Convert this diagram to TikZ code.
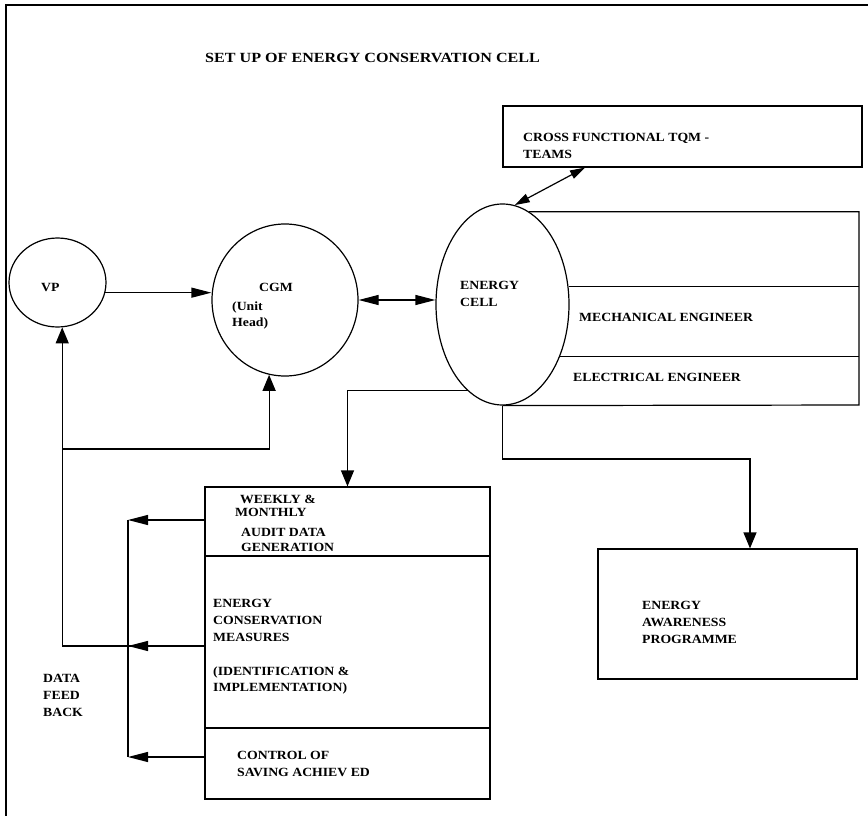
\documentclass[tikz,border=0pt]{standalone}
\usepackage{fontspec}
\setmainfont{Liberation Serif}[FakeStretch=1.1]
\newfontfamily\titlefont{Liberation Serif}[FakeStretch=1.15]
\usetikzlibrary{arrows.meta,shapes.geometric}
\begin{document}
\begin{tikzpicture}[x=1pt,y=-1pt,
  oval/.style={ellipse, draw, line width=1.2pt, inner sep=0pt},
  box/.style={rectangle, draw, line width=1.2pt, inner sep=0pt, minimum width=285pt},
  txt/.style={font=\fontsize{12.5}{17}\selectfont\bfseries, align=left, anchor=west, inner sep=0pt},
  conn/.style={line width=1.2pt},
  harr/.style={conn, -{Triangle[length=20pt,width=10pt]}},
  varr/.style={conn, -{Triangle[length=16pt,width=13pt]}},
  dbl/.style={conn, {Triangle[length=20pt,width=10pt]}-{Triangle[length=20pt,width=10pt]}},
  diag/.style={conn, {Triangle[length=15pt,width=9pt]}-{Triangle[length=15pt,width=9pt]}}]
\useasboundingbox (0,0) rectangle (868,816);
% frame
\coordinate (frTL) at (6,5);
\coordinate (frTR) at (868,5);
\coordinate (frBL) at (6,816);
\draw[line width=2pt] (frTR) -- (frTL) -- (frBL);

% title
\node[txt, font=\titlefont\fontsize{14}{17}\selectfont\bfseries] (title) at (205,58) {SET UP OF ENERGY CONSERVATION CELL};

% shapes
\node[oval, minimum width=97pt, minimum height=89pt] (vp) at (57.5,282.5) {};
\node[oval, minimum width=146pt, minimum height=152pt] (cgm) at (285,300) {};
\node[oval, minimum width=133pt, minimum height=201pt] (ecell) at (502.5,304.5) {};
\node[rectangle, draw, line width=1.2pt, inner sep=0pt, minimum width=359pt, minimum height=61pt] (tqm) at (682.5,136.5) {};
\node[box, minimum height=69pt] (weekly) at (347.5,521.5) {};
\node[box, minimum height=172pt] (ecm) at (347.5,642) {};
\node[box, minimum height=71pt] (control) at (347.5,763.5) {};
\node[rectangle, draw, line width=1.2pt, inner sep=0pt, minimum width=259pt, minimum height=130pt] (aware) at (727.5,614) {};

% engineers box
\coordinate (engNE) at (859,212);
\coordinate (engSE) at (859,405);
\draw[conn] (ecell.74.3) -- (ecell.74.3 -| engNE) -- (engSE) -- (ecell.south);
\draw[conn] (ecell.15) -- (ecell.15 -| engNE);
\draw[conn] (ecell.-42.8) -- (ecell.-42.8 -| engNE);

% texts
\node[txt] (vpt) at (41,288) {VP};
\node[txt] (cgmt) at (259,287) {CGM};
\node[txt, font=\fontsize{12.5}{16}\selectfont\bfseries] (unit) at (232,315) {(Unit\\Head)};
\node[txt] (ecellt) at (460,293.5) {ENERGY\\CELL};
\node[txt] (tqmt) at (523,146) {CROSS FUNCTIONAL TQM -\\TEAMS};
\node[txt] (mech) at (579,317) {MECHANICAL ENGINEER};
\node[txt] (elec) at (573,377) {ELECTRICAL ENGINEER};
\node[txt] (wk1) at (240,499) {WEEKLY \&};
\node[txt] (wk2) at (235,512) {MONTHLY};
\node[txt, font=\fontsize{12.5}{15}\selectfont\bfseries] (wk3) at (241,539.5) {AUDIT DATA\\GENERATION};
\node[txt, font=\fontsize{12.5}{16.8}\selectfont\bfseries] (ecmt) at (213,647) {ENERGY\\CONSERVATION\\MEASURES\\[16.8pt](IDENTIFICATION \&\\IMPLEMENTATION)};
\node[txt] (ctrlt) at (237,763.5) {CONTROL OF\\SAVING ACHIEV ED};
\node[txt] (dfb) at (43,695) {DATA\\FEED\\BACK};
\node[txt] (awt) at (642,622) {ENERGY\\AWARENESS\\PROGRAMME};

% connectors
\coordinate (vpIn) at (vp.-84.2);
\coordinate (cgmIn) at (cgm.258.6);
\coordinate (vpOut) at (vp.-12.6);
\draw[harr] (vpOut) -- (vpOut -| cgm.west);
\draw[dbl] (cgm.east) -- (cgm.east -| ecell.west);
\draw[diag] ([xshift=-97.5pt]tqm.south) -- (ecell.83);

\coordinate (fbT) at (128,520);
\coordinate (fbB) at (128,757);
\coordinate (brJ) at (0,449);
\draw[conn] (fbT) -- (fbB);
\draw[harr] (weekly.west |- fbT) -- (fbT);
\draw[harr] (control.west |- fbB) -- (fbB);
\draw[harr] ([yshift=-4pt]ecm.west) -- ([yshift=-4pt]ecm.west -| fbT);
\draw[varr] ([yshift=-4pt]ecm.west) -| (vpIn);
\draw[varr] (vpIn |- brJ) -| (cgmIn);

\draw[varr] (ecell.248.7) -| (weekly.north);
\coordinate (awJ) at (750,459);
\draw[varr] (ecell.south) |- (awJ) -- (awJ |- aware.north);
\end{tikzpicture}
\end{document}
